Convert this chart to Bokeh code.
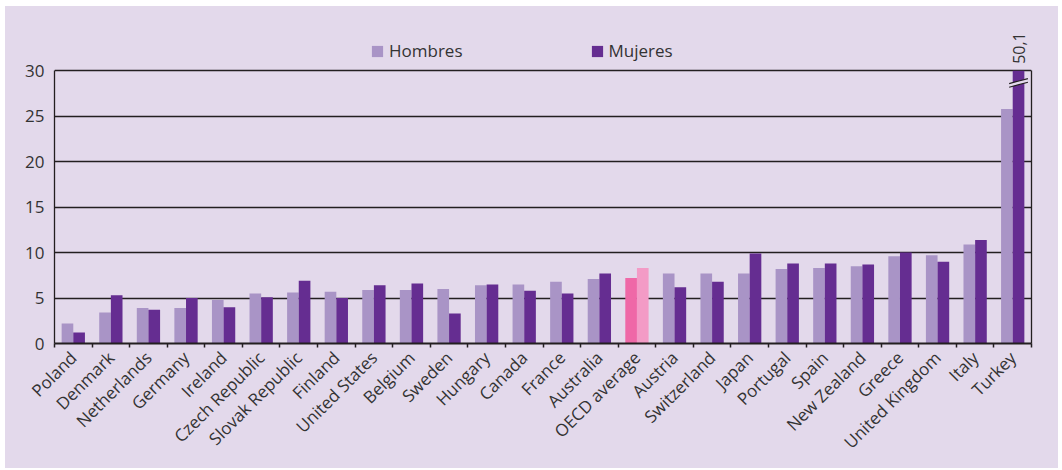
import numpy as np
from math import pi
from bokeh.plotting import figure
from bokeh.layouts import column, row
from bokeh.models import (ColumnDataSource, FixedTicker, Legend, LegendItem,
                          Label, Range1d, LinearAxis, Spacer)
from bokeh.embed import file_html
from bokeh.resources import INLINE

# ---------------- data ----------------
countries = ["Poland", "Denmark", "Netherlands", "Germany", "Ireland",
             "Czech Republic", "Slovak Republic", "Finland", "United States",
             "Belgium", "Sweden", "Hungary", "Canada", "France", "Australia",
             "OECD average", "Austria", "Switzerland", "Japan", "Portugal",
             "Spain", "New Zealand", "Greece", "United Kingdom", "Italy", "Turkey"]
hombres = [2.2, 3.4, 3.9, 3.9, 4.8, 5.5, 5.6, 5.7, 5.9, 5.9, 6.0, 6.4, 6.5,
           6.8, 7.1, 7.2, 7.7, 7.7, 7.7, 8.2, 8.3, 8.5, 9.6, 9.7, 10.9, 25.8]
mujeres = [1.2, 5.3, 3.7, 5.0, 4.0, 5.1, 6.9, 5.0, 6.4, 6.6, 3.3, 6.5, 5.8,
           5.5, 7.7, 8.3, 6.2, 6.8, 9.9, 8.8, 8.8, 8.7, 10.0, 9.0, 11.4, 50.1]
y_ticks = [0, 5, 10, 15, 20, 25, 30]
series_names = ["Hombres", "Mujeres"]
highlight = "OECD average"

# ---------------- style ----------------
BG = "#E3D9EB"
C_MEN = "#A994C6"
C_WOMEN = "#652D91"
C_MEN_HL = "#EF68A7"
C_WOMEN_HL = "#F39BC6"
INK = "#231F20"
TXT = "#333333"
FONT = "Open Sans"

n = len(countries)
ymax = y_ticks[-1]
centers = np.arange(n) + 0.5
bw = 0.31
men_colors = [C_MEN_HL if c == highlight else C_MEN for c in countries]
women_colors = [C_WOMEN_HL if c == highlight else C_WOMEN for c in countries]

# bars are cut at the top of the scale (axis break drawn on the cut bar)
src = ColumnDataSource(dict(
    xm=centers - bw / 2, xw=centers + bw / 2,
    men=np.minimum(hombres, ymax), women=np.minimum(mujeres, ymax),
    cm=men_colors, cw=women_colors))

p = figure(width=1053, height=462, output_backend="svg", toolbar_location=None,
           x_range=Range1d(0, n), y_range=Range1d(0, 36.2),
           min_border_left=49, min_border_right=27, min_border_top=8,
           min_border_bottom=125)
p.styles = {"background-color": BG}
p.background_fill_alpha = 0
p.border_fill_alpha = 0
p.outline_line_color = None

rm = p.vbar(x="xm", top="men", width=bw, source=src, fill_color="cm",
            line_color=None)
rw = p.vbar(x="xw", top="women", width=bw, source=src, fill_color="cw",
            line_color=None)

# grid
p.xgrid.visible = False
p.ygrid.ticker = FixedTicker(ticks=y_ticks)
p.ygrid.grid_line_color = INK
p.ygrid.grid_line_width = 1.3

# y axis
p.yaxis.ticker = FixedTicker(ticks=y_ticks)
p.yaxis.bounds = (0, ymax)
p.yaxis.axis_line_color = INK
p.yaxis.axis_line_width = 1.3
p.yaxis.major_tick_out = 0
p.yaxis.major_tick_in = 0
p.yaxis.minor_tick_out = 0
p.yaxis.minor_tick_in = 0
p.yaxis.major_label_standoff = 10
p.yaxis.major_label_text_font = FONT
p.yaxis.major_label_text_font_size = "17px"
p.yaxis.major_label_text_color = TXT

# right frame line
ra = LinearAxis(bounds=(0, ymax), ticker=FixedTicker(ticks=[]),
                axis_line_color=INK, axis_line_width=1.3,
                major_tick_out=0, major_tick_in=0, minor_tick_out=0,
                minor_tick_in=0, major_label_text_font_size="0px")
p.add_layout(ra, "right")

# x axis: labels at centres, small ticks at category boundaries
p.xaxis.ticker = FixedTicker(ticks=list(centers), minor_ticks=list(range(n + 1)))
p.xaxis.major_label_overrides = {float(c): name for c, name in zip(centers, countries)}
p.xaxis.major_label_orientation = pi / 4
p.xaxis.major_tick_out = 0
p.xaxis.major_tick_in = 0
p.xaxis.minor_tick_out = 4
p.xaxis.minor_tick_in = 0
p.xaxis.minor_tick_line_color = INK
p.xaxis.minor_tick_line_width = 1.5
p.xaxis.axis_line_color = INK
p.xaxis.axis_line_width = 2
p.xaxis.major_label_standoff = 7
p.xaxis.major_label_text_font = FONT
p.xaxis.major_label_text_font_size = "17px"
p.xaxis.major_label_text_color = TXT

# axis break on the cut Turkey bar
xd = centers[-1] + bw / 2
bx = [xd - 0.25, xd + 0.25, xd + 0.25, xd - 0.25]
by = [ymax - 1.8, ymax - 1.25, ymax - 0.85, ymax - 1.4]
p.patch(bx, by, fill_color=BG, line_color=None)
p.segment(x0=[bx[0], bx[3]], y0=[by[0], by[3]], x1=[bx[1], bx[2]],
          y1=[by[1], by[2]], line_color=INK, line_width=1.2)

p.add_layout(Label(x=xd, y=ymax, text=f"{mujeres[-1]:.1f}".replace(".", ","),
                   angle=pi / 2, text_align="left", text_baseline="middle",
                   y_offset=7, text_font=FONT, text_font_size="16px",
                   text_color=TXT))

legend = Legend(items=[LegendItem(label=series_names[0], renderers=[rm], index=0),
                       LegendItem(label=series_names[1], renderers=[rw], index=0)],
                orientation="horizontal", location=(316, 281),
                background_fill_alpha=0, border_line_color=None,
                padding=4, spacing=127, glyph_width=14, glyph_height=14,
                label_standoff=5, label_text_font=FONT,
                label_text_font_size="17px", label_text_color=TXT)
p.add_layout(legend)

layout = column(Spacer(height=6), row(Spacer(width=5), p))
open("out.html", "w").write(file_html(layout, INLINE))
